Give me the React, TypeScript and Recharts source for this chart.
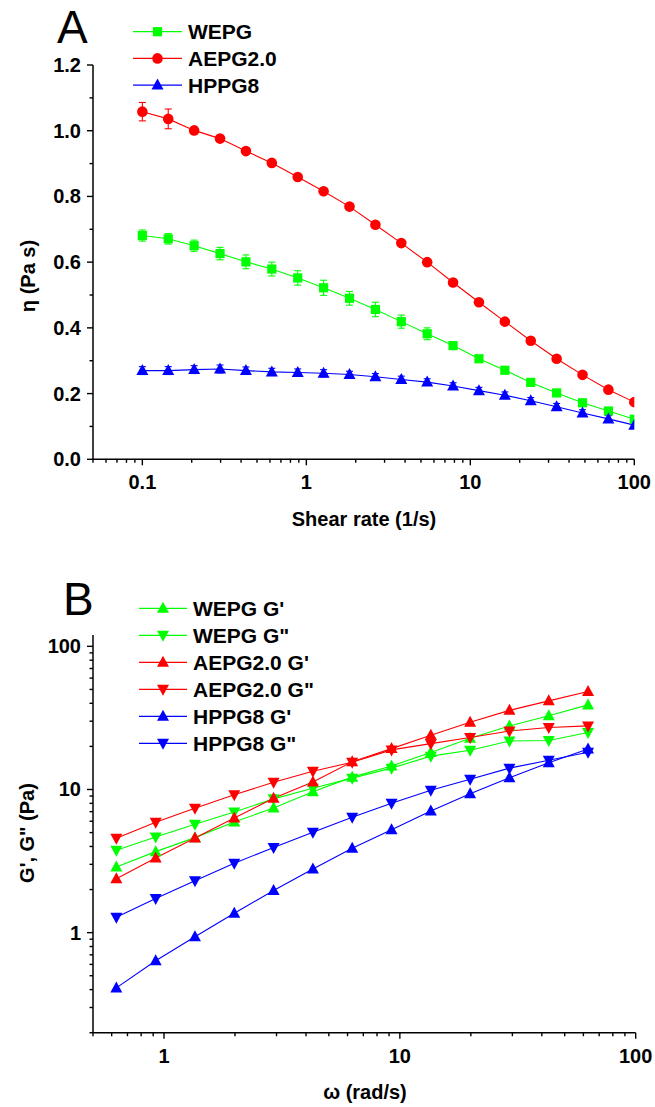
import React from 'react';
import { LineChart, Line, XAxis, YAxis, ErrorBar, Legend } from 'recharts';

const FONT = '"Liberation Sans", Arial, Helvetica, sans-serif';
const GREEN = '#00ff00';
const RED = '#ff0000';
const BLUE = '#0000ff';

// ---------- Panel A data ----------
const shearRate = [0.1, 0.1438, 0.2069, 0.2976, 0.4281, 0.6158, 0.8859, 1.274, 1.833, 2.637, 3.793, 5.456, 7.848, 11.29, 16.24, 23.36, 33.6, 48.33, 69.52, 100];
const wepgEta = [0.681, 0.671, 0.65, 0.626, 0.601, 0.579, 0.552, 0.522, 0.49, 0.456, 0.419, 0.382, 0.346, 0.306, 0.271, 0.234, 0.202, 0.172, 0.147, 0.122];
const wepgErr = [0.017, 0.016, 0.017, 0.019, 0.021, 0.021, 0.022, 0.023, 0.021, 0.022, 0.02, 0.018, 0.01, 0.008, 0.006, 0.005, 0.004, 0.004, 0.003, null];
const aepgEta = [1.058, 1.036, 1.001, 0.976, 0.938, 0.902, 0.859, 0.816, 0.769, 0.714, 0.658, 0.6, 0.538, 0.478, 0.419, 0.361, 0.306, 0.257, 0.212, 0.174];
const aepgErr = [0.028, 0.03, null, null, null, null, null, null, null, null, null, null, null, null, null, null, null, null, null, null];
const hppgEta = [0.27, 0.27, 0.273, 0.275, 0.27, 0.266, 0.264, 0.262, 0.258, 0.251, 0.243, 0.235, 0.223, 0.209, 0.195, 0.178, 0.16, 0.141, 0.123, 0.104];
const hppgErr = [0.012, 0.012, 0.012, 0.012, 0.011, 0.011, 0.011, 0.011, 0.01, 0.01, 0.01, 0.01, 0.01, 0.01, 0.01, 0.01, 0.01, 0.01, 0.01, null];

const xTicksA = [0.05, 0.06, 0.07, 0.08, 0.09, 0.1, 0.2, 0.3, 0.4, 0.5, 0.6, 0.7, 0.8, 0.9, 1, 2, 3, 4, 5, 6, 7, 8, 9, 10, 20, 30, 40, 50, 60, 70, 80, 90, 100];
const xLabelsA = [0.1, 1, 10, 100];
const yTicksA = [0, 0.1, 0.2, 0.3, 0.4, 0.5, 0.6, 0.7, 0.8, 0.9, 1.0, 1.1, 1.2];
const yLabelsA = [0, 0.2, 0.4, 0.6, 0.8, 1.0, 1.2];

// ---------- Panel B data ----------
const omega = [0.628, 0.922, 1.353, 1.986, 2.915, 4.279, 6.28, 9.22, 13.53, 19.86, 29.15, 42.79, 62.8];
const wepgG1 = [2.87, 3.68, 4.61, 5.93, 7.43, 9.63, 12.2, 14.6, 18.1, 22.8, 27.8, 32.7, 39.0];
const wepgG2 = [3.76, 4.66, 5.71, 6.97, 8.6, 10.2, 12.0, 14.1, 17.1, 18.8, 21.8, 22.0, 25.0];
const aepgG1 = [2.38, 3.32, 4.58, 6.33, 8.69, 11.3, 15.6, 19.3, 23.9, 29.5, 35.7, 41.6, 48.4];
const aepgG2 = [4.56, 5.9, 7.4, 9.18, 11.25, 13.4, 15.5, 18.9, 20.9, 23.1, 25.6, 27.1, 27.8];
const hppgG1 = [0.411, 0.637, 0.937, 1.366, 1.97, 2.78, 3.88, 5.24, 7.08, 9.33, 12.1, 15.4, 19.2];
const hppgG2 = [1.28, 1.73, 2.3, 3.05, 3.94, 5.02, 6.4, 8.02, 9.89, 11.8, 14.1, 16.0, 18.2];

const xTicksB = [0.5, 0.6, 0.7, 0.8, 0.9, 1, 2, 3, 4, 5, 6, 7, 8, 9, 10, 20, 30, 40, 50, 60, 70, 80, 90, 100];
const xLabelsB = [1, 10, 100];
const yTicksB = [0.2, 0.3, 0.4, 0.5, 0.6, 0.7, 0.8, 0.9, 1, 2, 3, 4, 5, 6, 7, 8, 9, 10, 20, 30, 40, 50, 60, 70, 80, 90, 100];
const yLabelsB = [1, 10, 100];

const dataA = shearRate.map((x, i) => ({
  x,
  wepg: wepgEta[i], wepgErr: wepgErr[i],
  aepg: aepgEta[i], aepgErr: aepgErr[i],
  hppg: hppgEta[i], hppgErr: hppgErr[i],
}));

const dataB = omega.map((x, i) => ({
  x,
  wG1: wepgG1[i], wG2: wepgG2[i],
  aG1: aepgG1[i], aG2: aepgG2[i],
  hG1: hppgG1[i], hG2: hppgG2[i],
}));

type Shape = 'square' | 'circle' | 'up' | 'down';

function Marker({ shape, cx, cy, color }: { shape: Shape; cx: number; cy: number; color: string }) {
  if (cx == null || cy == null || isNaN(cx) || isNaN(cy)) return null;
  switch (shape) {
    case 'square':
      return <rect x={cx - 4.6} y={cy - 4.6} width={9.2} height={9.2} fill={color} />;
    case 'circle':
      return <circle cx={cx} cy={cy} r={5.3} fill={color} />;
    case 'up':
      return <path d={`M${cx},${cy - 6.5} L${cx + 6},${cy + 4.5} L${cx - 6},${cy + 4.5} Z`} fill={color} />;
    case 'down':
      return <path d={`M${cx},${cy + 6.5} L${cx + 6},${cy - 4.5} L${cx - 6},${cy - 4.5} Z`} fill={color} />;
  }
  return null;
}

const dotFor = (shape: Shape, color: string) => (p: any) =>
  <Marker key={`d-${p.index}`} shape={shape} cx={p.cx} cy={p.cy} color={color} />;

const makeXTick = (labels: number[], fmt: (v: number) => string) => (props: any) => {
  const { x, y, payload } = props;
  const major = labels.includes(payload.value);
  return (
    <g>
      <line x1={x} x2={x} y1={y} y2={y + (major ? 6 : 3.5)} stroke="#000" strokeWidth={1.4} />
      {major && (
        <text x={x} y={y + 23} textAnchor="middle" dominantBaseline="central"
          fontFamily={FONT} fontWeight="bold" fontSize={20} fill="#000">{fmt(payload.value)}</text>
      )}
    </g>
  );
};

const makeYTick = (labels: number[], fmt: (v: number) => string) => (props: any) => {
  const { x, y, payload } = props;
  const major = labels.includes(payload.value);
  return (
    <g>
      <line x1={x - (major ? 6 : 3.5)} x2={x} y1={y} y2={y} stroke="#000" strokeWidth={1.4} />
      {major && (
        <text x={x - 12} y={y} textAnchor="end" dominantBaseline="central"
          fontFamily={FONT} fontWeight="bold" fontSize={20} fill="#000">{fmt(payload.value)}</text>
      )}
    </g>
  );
};

const seriesA = [
  { key: 'wepg', name: 'WEPG', color: GREEN, shape: 'square' as Shape },
  { key: 'aepg', name: 'AEPG2.0', color: RED, shape: 'circle' as Shape },
  { key: 'hppg', name: 'HPPG8', color: BLUE, shape: 'up' as Shape },
];

const seriesB = [
  { key: 'wG1', name: "WEPG G'", color: GREEN, shape: 'up' as Shape },
  { key: 'wG2', name: 'WEPG G"', color: GREEN, shape: 'down' as Shape },
  { key: 'aG1', name: "AEPG2.0 G'", color: RED, shape: 'up' as Shape },
  { key: 'aG2', name: 'AEPG2.0 G"', color: RED, shape: 'down' as Shape },
  { key: 'hG1', name: "HPPG8 G'", color: BLUE, shape: 'up' as Shape },
  { key: 'hG2', name: 'HPPG8 G"', color: BLUE, shape: 'down' as Shape },
];

const LegendBox = ({ items, x0, x1, mx, tx, y0, dy, w, h }: any) => (
  <svg width={w} height={h} style={{ display: 'block', overflow: 'visible' }}>
    {items.map((s: any, i: number) => {
      const cy = y0 + i * dy;
      return (
        <g key={s.key}>
          <line x1={x0} x2={x1} y1={cy} y2={cy} stroke={s.color} strokeWidth={1.2} />
          <Marker shape={s.shape} cx={mx} cy={cy} color={s.color} />
          <text x={tx} y={cy} dominantBaseline="central" fontFamily={FONT} fontWeight="bold" fontSize={21} fill="#000">{s.name}</text>
        </g>
      );
    })}
  </svg>
);

const axisLine = { stroke: '#000', strokeWidth: 1.5 };

export default function App() {
  return (
    <div style={{ position: 'absolute', left: 0, top: 0, width: 655, height: 1107, background: '#fff', overflow: 'hidden' }}>
      <LineChart width={655} height={540} data={dataA} margin={{ top: 65, right: 20.7, left: 33, bottom: 20.7 }}>
        <XAxis dataKey="x" type="number" scale="log" domain={[0.05, 100]} ticks={xTicksA} interval={0}
          tickSize={0} tickMargin={0} tickLine={false} axisLine={axisLine} height={60}
          tick={makeXTick(xLabelsA, (v) => String(v))} allowDataOverflow />
        <YAxis type="number" domain={[0, 1.2]} ticks={yTicksA} interval={0} width={60}
          tickSize={0} tickMargin={0} tickLine={false} axisLine={axisLine}
          tick={makeYTick(yLabelsA, (v) => v.toFixed(1))} allowDataOverflow />
        {seriesA.map((s) => (
          <Line key={s.key} dataKey={s.key} name={s.name} type="linear" stroke={s.color} strokeWidth={1.1}
            isAnimationActive={false} dot={dotFor(s.shape, s.color)} activeDot={false}>
            <ErrorBar dataKey={`${s.key}Err`} width={3.5} stroke={s.color} strokeWidth={1.1} direction="y" />
          </Line>
        ))}
        <Legend layout="vertical" align="center" verticalAlign="middle"
          wrapperStyle={{ left: 0, top: 0, width: 320, height: 100 }}
          content={() => <LegendBox items={seriesA} x0={133} x1={182} mx={157.5} tx={188} y0={31.7} dy={26.7} w={320} h={100} />} />
      </LineChart>
      <LineChart width={655} height={567} data={dataB} margin={{ top: 95, right: 19.3, left: 33, bottom: 14.3 }}>
        <XAxis dataKey="x" type="number" scale="log" domain={[0.5, 100]} ticks={xTicksB} interval={0}
          tickSize={0} tickMargin={0} tickLine={false} axisLine={axisLine} height={60}
          tick={makeXTick(xLabelsB, (v) => String(v))} allowDataOverflow />
        <YAxis type="number" scale="log" domain={[0.2, 120]} ticks={yTicksB} interval={0} width={60}
          tickSize={0} tickMargin={0} tickLine={false} axisLine={axisLine}
          tick={makeYTick(yLabelsB, (v) => String(v))} allowDataOverflow />
        {seriesB.map((s) => (
          <Line key={s.key} dataKey={s.key} name={s.name} type="linear" stroke={s.color} strokeWidth={1.1}
            isAnimationActive={false} dot={dotFor(s.shape, s.color)} activeDot={false} />
        ))}
        <Legend layout="vertical" align="center" verticalAlign="middle"
          wrapperStyle={{ left: 0, top: 0, width: 340, height: 220 }}
          content={() => <LegendBox items={seriesB} x0={139} x1={187} mx={163} tx={193} y0={68.3} dy={27} w={340} h={220} />} />
      </LineChart>
      <svg width={655} height={1107} style={{ position: 'absolute', left: 0, top: 0, pointerEvents: 'none' }}>
        <text x={57} y={43} fontFamily={FONT} fontSize={46} fill="#000">A</text>
        <text x={63} y={615} fontFamily={FONT} fontSize={46} fill="#000">B</text>
        <text x={364} y={519} textAnchor="middle" dominantBaseline="central" fontFamily={FONT} fontWeight="bold" fontSize={20} fill="#000">Shear rate (1/s)</text>
        <text x={28} y={276} transform="rotate(-90 28 276)" textAnchor="middle" dominantBaseline="central" fontFamily={FONT} fontWeight="bold" fontSize={20} fill="#000">η (Pa s)</text>
        <text x={365} y={1092} textAnchor="middle" dominantBaseline="central" fontFamily={FONT} fontWeight="bold" fontSize={20} fill="#000">ω (rad/s)</text>
        <text x={27} y={833} transform="rotate(-90 27 833)" textAnchor="middle" dominantBaseline="central" fontFamily={FONT} fontWeight="bold" fontSize={20} fill="#000">G', G" (Pa)</text>
      </svg>
    </div>
  );
}
